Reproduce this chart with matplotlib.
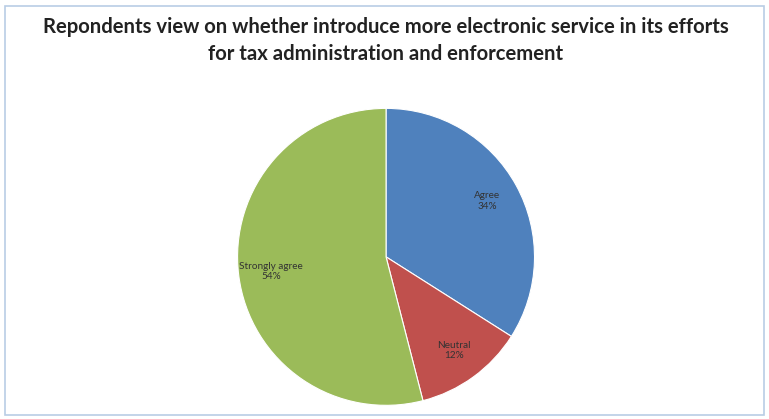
import matplotlib
matplotlib.use('Agg')
import matplotlib.pyplot as plt
from matplotlib.patches import Rectangle

labels = ['Agree', 'Neutral', 'Strongly agree']
shares = [34, 12, 54]
colors = ['#4F81BD', '#C0504D', '#9BBB59']

title = ('Repondents view on whether introduce more electronic service in its efforts\n'
         'for tax administration and enforcement')

fig = plt.figure(figsize=(7.69, 4.19), dpi=100)
fig.patch.set_facecolor('white')

# frame around the chart area
fig.add_artist(Rectangle((0.006, 0.01), 0.988, 0.975, transform=fig.transFigure,
                         fill=False, edgecolor='#B9CDE5', linewidth=1.2))

ax = fig.add_axes([0.502 - 0.195, 0.387 - 0.358, 0.39, 0.716])
wedges, texts = ax.pie(shares, colors=colors, startangle=90, counterclock=False,
                       labels=['{}\n{}%'.format(l, s) for l, s in zip(labels, shares)],
                       labeldistance=0.78,
                       wedgeprops={'linewidth': 0.8, 'edgecolor': 'white'},
                       textprops={'fontsize': 7.2, 'color': '#333333', 'ha': 'center',
                                  'va': 'center', 'family': 'Lato'})
ax.set_xlim(-1.01, 1.01)
ax.set_ylim(-1.01, 1.01)
ax.set_aspect('equal')

fig.text(0.502, 0.903, title, ha='center', va='center', fontsize=14.6,
         fontweight='bold', family='Lato', color='#222222', linespacing=1.45)

plt.savefig('out.png', dpi=100)
